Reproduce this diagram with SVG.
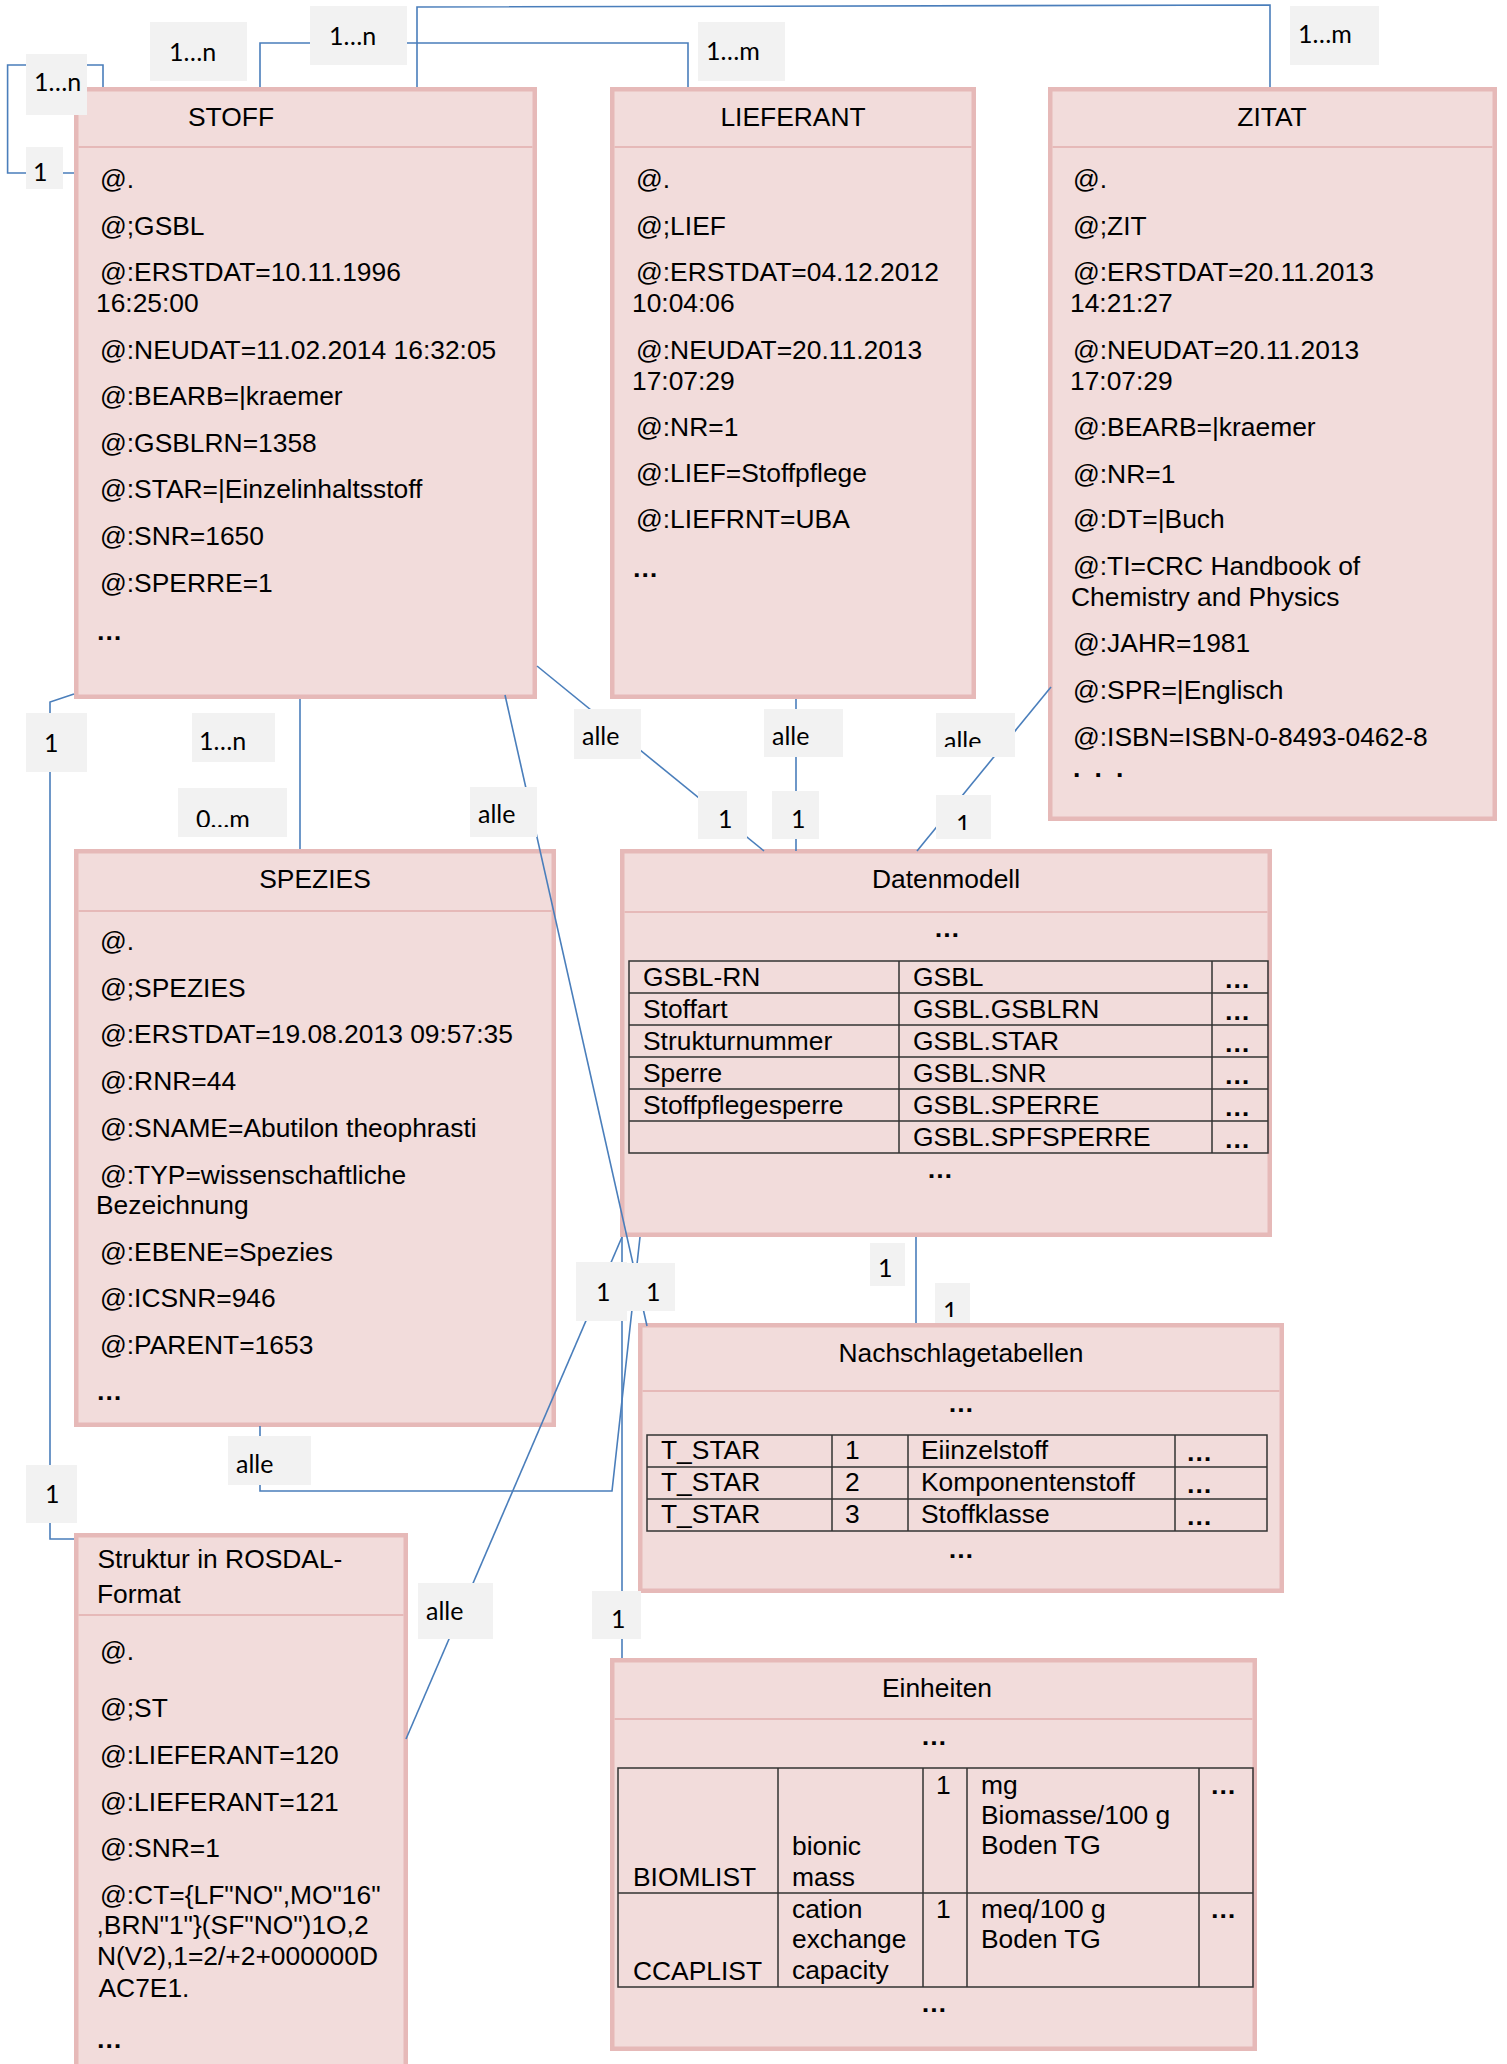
<svg xmlns="http://www.w3.org/2000/svg" width="1507" height="2064" viewBox="0 0 1507 2064">
<defs>
<style>
.box{fill:#F2DCDB;stroke:#E6B9B8;stroke-width:4.5}
.hd{stroke:#E6B9B8;stroke-width:2}
.t{font-family:"Liberation Sans",Arial,sans-serif;font-size:26.4px;fill:#000}
.e{font-weight:bold}
.m{text-anchor:middle}
.tb{fill:none;stroke:#333;stroke-width:1.5}
.c{fill:none;stroke:#4A7EBB;stroke-width:1.6}
.lb{fill:#F2F2F2}
.lt{font-family:Lato,"Open Sans",sans-serif;font-size:25px;fill:#000}
</style>
<clipPath id="cl9"><rect x="178" y="788" width="109" height="39"/></clipPath>
<clipPath id="cl13"><rect x="936" y="713" width="79" height="34"/></clipPath>
<clipPath id="cl16"><rect x="936" y="795" width="55" height="35"/></clipPath>
<clipPath id="cl20"><rect x="935" y="1283" width="35" height="34"/></clipPath>
</defs>
<rect width="1507" height="2064" fill="#fff"/>

<g id="stoff">
<rect class="box" x="76.25" y="89.25" width="458.5" height="607.5"/>
<line class="hd" x1="78.5" y1="147" x2="532.5" y2="147"/>
<text class="t" x="188" y="126">STOFF</text>
<text class="t" x="100" y="188">@.</text>
<text class="t" x="100" y="235">@;GSBL</text>
<text class="t" x="100" y="281">@:ERSTDAT=10.11.1996</text>
<text class="t" x="96" y="312">16:25:00</text>
<text class="t" x="100" y="359">@:NEUDAT=11.02.2014 16:32:05</text>
<text class="t" x="100" y="405">@:BEARB=|kraemer</text>
<text class="t" x="100" y="452">@:GSBLRN=1358</text>
<text class="t" x="100" y="498">@:STAR=|Einzelinhaltsstoff</text>
<text class="t" x="100" y="545">@:SNR=1650</text>
<text class="t" x="100" y="592">@:SPERRE=1</text>
<text class="t e" x="96" y="640">…</text>
</g>

<g id="lieferant">
<rect class="box" x="612.25" y="89.25" width="361.5" height="607.5"/>
<line class="hd" x1="614.5" y1="147" x2="971.5" y2="147"/>
<text class="t m" x="793" y="126">LIEFERANT</text>
<text class="t" x="636" y="188">@.</text>
<text class="t" x="636" y="235">@;LIEF</text>
<text class="t" x="636" y="281">@:ERSTDAT=04.12.2012</text>
<text class="t" x="632" y="312">10:04:06</text>
<text class="t" x="636" y="359">@:NEUDAT=20.11.2013</text>
<text class="t" x="632" y="390">17:07:29</text>
<text class="t" x="636" y="436">@:NR=1</text>
<text class="t" x="636" y="482">@:LIEF=Stoffpflege</text>
<text class="t" x="636" y="528">@:LIEFRNT=UBA</text>
<text class="t e" x="632" y="577">…</text>
</g>

<g id="zitat">
<rect class="box" x="1050.25" y="89.25" width="444.5" height="729.5"/>
<line class="hd" x1="1052.5" y1="147" x2="1492.5" y2="147"/>
<text class="t m" x="1272" y="126">ZITAT</text>
<text class="t" x="1073" y="188">@.</text>
<text class="t" x="1073" y="235">@;ZIT</text>
<text class="t" x="1073" y="281">@:ERSTDAT=20.11.2013</text>
<text class="t" x="1070" y="312">14:21:27</text>
<text class="t" x="1073" y="359">@:NEUDAT=20.11.2013</text>
<text class="t" x="1070" y="390">17:07:29</text>
<text class="t" x="1073" y="436">@:BEARB=|kraemer</text>
<text class="t" x="1073" y="483">@:NR=1</text>
<text class="t" x="1073" y="528">@:DT=|Buch</text>
<text class="t" x="1073" y="575">@:TI=CRC Handbook of</text>
<text class="t" x="1071" y="606">Chemistry and Physics</text>
<text class="t" x="1073" y="652">@:JAHR=1981</text>
<text class="t" x="1073" y="699">@:SPR=|Englisch</text>
<text class="t" x="1073" y="746">@:ISBN=ISBN-0-8493-0462-8</text>
<text class="t e" x="1073" y="777" letter-spacing="3.4">. . .</text>
</g>

<g id="spezies">
<rect class="box" x="76.25" y="851.25" width="477.5" height="573.5"/>
<line class="hd" x1="78.5" y1="911" x2="551.5" y2="911"/>
<text class="t m" x="315" y="888">SPEZIES</text>
<text class="t" x="100" y="950">@.</text>
<text class="t" x="100" y="997">@;SPEZIES</text>
<text class="t" x="100" y="1043">@:ERSTDAT=19.08.2013 09:57:35</text>
<text class="t" x="100" y="1090">@:RNR=44</text>
<text class="t" x="100" y="1137">@:SNAME=Abutilon theophrasti</text>
<text class="t" x="100" y="1184">@:TYP=wissenschaftliche</text>
<text class="t" x="96" y="1214">Bezeichnung</text>
<text class="t" x="100" y="1261">@:EBENE=Spezies</text>
<text class="t" x="100" y="1307">@:ICSNR=946</text>
<text class="t" x="100" y="1354">@:PARENT=1653</text>
<text class="t e" x="96" y="1400">…</text>
</g>

<g id="rosdal">
<rect class="box" x="76.25" y="1535.25" width="329.5" height="550"/>
<line class="hd" x1="78.5" y1="1615" x2="403.5" y2="1615"/>
<text class="t" x="97.5" y="1568">Struktur in ROSDAL-</text>
<text class="t" x="97" y="1603">Format</text>
<text class="t" x="100" y="1660">@.</text>
<text class="t" x="100" y="1717">@;ST</text>
<text class="t" x="100" y="1764">@:LIEFERANT=120</text>
<text class="t" x="100" y="1811">@:LIEFERANT=121</text>
<text class="t" x="100" y="1857">@:SNR=1</text>
<text class="t" x="100" y="1904">@:CT={LF"NO",MO"16"</text>
<text class="t" x="96.5" y="1934">,BRN"1"}(SF"NO")1O,2</text>
<text class="t" x="97" y="1965">N(V2),1=2/+2+000000D</text>
<text class="t" x="98.5" y="1997">AC7E1.</text>
<text class="t e" x="96" y="2048">…</text>
</g>

<g id="datenmodell">
<rect class="box" x="622.25" y="851.25" width="647.5" height="383.5"/>
<line class="hd" x1="624.5" y1="912" x2="1267.5" y2="912"/>
<text class="t m" x="946" y="888">Datenmodell</text>
<text class="t m e" x="947" y="937">…</text>
<path class="tb" d="M629,961H1268V1153H629Z M629,993H1268 M629,1025H1268 M629,1057H1268 M629,1089H1268 M629,1121H1268 M899,961V1153 M1212,961V1153"/>
<text class="t" x="643" y="986">GSBL-RN</text>
<text class="t" x="643" y="1018">Stoffart</text>
<text class="t" x="643" y="1050">Strukturnummer</text>
<text class="t" x="643" y="1082">Sperre</text>
<text class="t" x="643" y="1114">Stoffpflegesperre</text>
<text class="t" x="913" y="986">GSBL</text>
<text class="t" x="913" y="1018">GSBL.GSBLRN</text>
<text class="t" x="913" y="1050">GSBL.STAR</text>
<text class="t" x="913" y="1082">GSBL.SNR</text>
<text class="t" x="913" y="1114">GSBL.SPERRE</text>
<text class="t" x="913" y="1146">GSBL.SPFSPERRE</text>
<text class="t e" x="1224" y="988">…</text>
<text class="t e" x="1224" y="1020">…</text>
<text class="t e" x="1224" y="1052">…</text>
<text class="t e" x="1224" y="1084">…</text>
<text class="t e" x="1224" y="1116">…</text>
<text class="t e" x="1224" y="1148">…</text>
<text class="t m e" x="940" y="1178">…</text>
</g>

<g id="nachschlagetabellen">
<rect class="box" x="640.25" y="1325.25" width="641.5" height="265.5"/>
<line class="hd" x1="642.5" y1="1391" x2="1279.5" y2="1391"/>
<text class="t m" x="961" y="1362">Nachschlagetabellen</text>
<text class="t m e" x="961" y="1412">…</text>
<path class="tb" d="M647,1435H1267V1531H647Z M647,1467H1267 M647,1499H1267 M832,1435V1531 M908,1435V1531 M1175,1435V1531"/>
<text class="t" x="661" y="1459">T_STAR</text>
<text class="t" x="661" y="1491">T_STAR</text>
<text class="t" x="661" y="1523">T_STAR</text>
<text class="t" x="845" y="1459">1</text>
<text class="t" x="845" y="1491">2</text>
<text class="t" x="845" y="1523">3</text>
<text class="t" x="921" y="1459">Eiinzelstoff</text>
<text class="t" x="921" y="1491">Komponentenstoff</text>
<text class="t" x="921" y="1523">Stoffklasse</text>
<text class="t e" x="1186" y="1461">…</text>
<text class="t e" x="1186" y="1493">…</text>
<text class="t e" x="1186" y="1525">…</text>
<text class="t m e" x="961" y="1558">…</text>
</g>

<g id="einheiten">
<rect class="box" x="612.25" y="1660.25" width="642.5" height="388.5"/>
<line class="hd" x1="614.5" y1="1719" x2="1252.5" y2="1719"/>
<text class="t m" x="937" y="1697">Einheiten</text>
<text class="t m e" x="934" y="1745">…</text>
<path class="tb" d="M618,1768H1253V1987H618Z M618,1893H1253 M778,1768V1987 M923,1768V1987 M967,1768V1987 M1199,1768V1987"/>
<text class="t" x="633" y="1886">BIOMLIST</text>
<text class="t" x="792" y="1855">bionic</text>
<text class="t" x="792" y="1886">mass</text>
<text class="t" x="936" y="1794">1</text>
<text class="t" x="981" y="1794">mg</text>
<text class="t" x="981" y="1824">Biomasse/100 g</text>
<text class="t" x="981" y="1854">Boden TG</text>
<text class="t e" x="1210" y="1794">…</text>
<text class="t" x="633" y="1980">CCAPLIST</text>
<text class="t" x="792" y="1918">cation</text>
<text class="t" x="792" y="1948">exchange</text>
<text class="t" x="792" y="1979">capacity</text>
<text class="t" x="936" y="1918">1</text>
<text class="t" x="981" y="1918">meq/100 g</text>
<text class="t" x="981" y="1948">Boden TG</text>
<text class="t e" x="1210" y="1918">…</text>
<text class="t m e" x="934" y="2012">…</text>
</g>

<g id="connectors">
<path class="c" d="M103,87V65H7.6V173H74"/>
<path class="c" d="M260,87V43H688V87"/>
<path class="c" d="M417,87V7L1270,5V87"/>
<path class="c" d="M74,694L50,702V1539H74"/>
<path class="c" d="M300,699V849"/>
<path class="c" d="M505,695L647,1326"/>
<path class="c" d="M537,666L764,851"/>
<path class="c" d="M796,699V851"/>
<path class="c" d="M1051,687L917,851"/>
<path class="c" d="M916,1237V1323"/>
<path class="c" d="M622,1237L406,1739"/>
<path class="c" d="M622,1237V1658"/>
<path class="c" d="M640,1237L612,1491H260V1426"/>
</g>

<g id="connector-labels">
<rect class="lb" x="26" y="54" width="61" height="61"/><text class="lt" x="34" y="91">1…n</text>
<rect class="lb" x="26" y="147" width="37" height="42"/><text class="lt" x="33" y="181">1</text>
<rect class="lb" x="150" y="22" width="97" height="59"/><text class="lt" x="169" y="61">1…n</text>
<rect class="lb" x="310" y="6" width="97" height="59"/><text class="lt" x="329" y="45">1…n</text>
<rect class="lb" x="698" y="22" width="87" height="59"/><text class="lt" x="706" y="60">1…m</text>
<rect class="lb" x="1290" y="6" width="89" height="59"/><text class="lt" x="1298" y="43">1…m</text>
<rect class="lb" x="26" y="713" width="61" height="59"/><text class="lt" x="44" y="752">1</text>
<rect class="lb" x="192" y="713" width="83" height="49"/><text class="lt" x="199" y="750">1…n</text>
<rect class="lb" x="178" y="788" width="109" height="49"/><text class="lt" x="196" y="828" clip-path="url(#cl9)">0…m</text>
<rect class="lb" x="470" y="787" width="67" height="50"/><text class="lt" x="478" y="823">alle</text>
<rect class="lb" x="574" y="709" width="67" height="50"/><text class="lt" x="582" y="745">alle</text>
<rect class="lb" x="764" y="709" width="79" height="48"/><text class="lt" x="772" y="745">alle</text>
<rect class="lb" x="936" y="713" width="79" height="44"/><text class="lt" x="944" y="750" clip-path="url(#cl13)">alle</text>
<rect class="lb" x="698" y="791" width="49" height="48"/><text class="lt" x="718" y="828">1</text>
<rect class="lb" x="772" y="791" width="47" height="48"/><text class="lt" x="791" y="828">1</text>
<rect class="lb" x="936" y="795" width="55" height="44"/><text class="lt" x="956" y="833" clip-path="url(#cl16)">1</text>
<rect class="lb" x="576" y="1262" width="51" height="59"/><text class="lt" x="596" y="1301">1</text>
<rect class="lb" x="627" y="1263" width="48" height="48"/><text class="lt" x="646" y="1301">1</text>
<rect class="lb" x="870" y="1243" width="35" height="43"/><text class="lt" x="878" y="1277">1</text>
<rect class="lb" x="935" y="1283" width="35" height="40"/><text class="lt" x="943" y="1320" clip-path="url(#cl20)">1</text>
<rect class="lb" x="228" y="1436" width="83" height="49"/><text class="lt" x="236" y="1473">alle</text>
<rect class="lb" x="26" y="1465" width="51" height="58"/><text class="lt" x="45" y="1503">1</text>
<rect class="lb" x="418" y="1583" width="75" height="56"/><text class="lt" x="426" y="1620">alle</text>
<rect class="lb" x="592" y="1591" width="49" height="48"/><text class="lt" x="611" y="1628">1</text>
</g>
</svg>
